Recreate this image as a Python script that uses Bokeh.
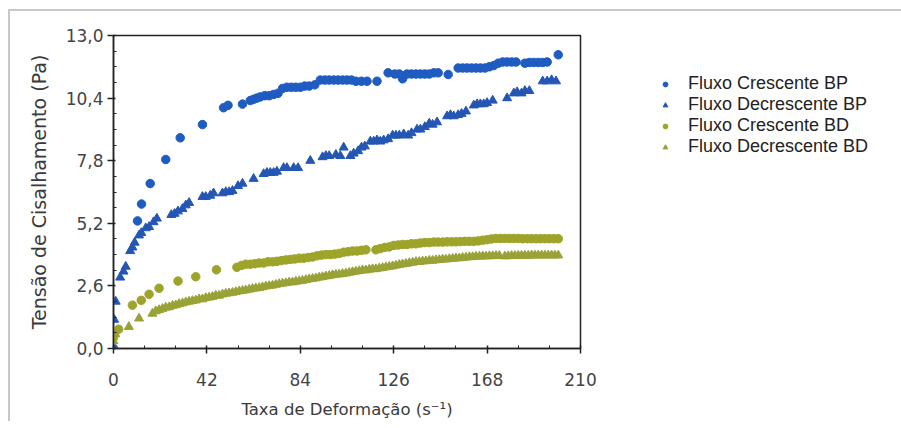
from bokeh.plotting import figure
from bokeh.models import FixedTicker, CustomJSTickFormatter, Legend, LegendItem, Range1d
from bokeh.embed import file_html
from bokeh.resources import INLINE

# ---------------- data ----------------
series_names = ["Fluxo Crescente BP", "Fluxo Decrescente BP",
                "Fluxo Crescente BD", "Fluxo Decrescente BD"]

bp_up_x = [0, 10.8, 12.6, 16.5, 23.5, 30.0, 40.0, 49.5, 51.5, 58.0, 61.5, 63.0, 64.5, 66.0,
           68.0, 70.0, 72.0, 74.0, 76.0, 78.0, 80.0, 82.0, 84.0, 86.0, 88.0, 90.5, 93.0, 95.0,
           97.0, 99.0, 101.0, 103.0, 105.0, 107.0, 109.0, 111.5, 114.0, 118.5, 123.5, 126.5,
           128.5, 130.0, 132.0, 134.0, 136.0, 138.0, 140.0, 142.0, 144.0, 146.0, 150.5, 155.0,
           157.0, 159.0, 161.0, 163.0, 165.0, 167.0, 169.0, 171.0, 173.0, 175.0, 177.0, 179.0,
           181.0, 185.0, 187.0, 189.0, 191.0, 193.0, 195.0, 200.0]
bp_up_y = [0.0, 5.3, 6.0, 6.85, 7.85, 8.75, 9.3, 10.0, 10.1, 10.15, 10.3, 10.35, 10.4, 10.45,
           10.5, 10.5, 10.55, 10.6, 10.8, 10.85, 10.85, 10.85, 10.85, 10.9, 10.9, 10.95, 11.15, 11.15,
           11.15, 11.15, 11.15, 11.15, 11.15, 11.15, 11.1, 11.1, 11.1, 11.1, 11.45, 11.4,
           11.4, 11.2, 11.4, 11.4, 11.4, 11.4, 11.4, 11.4, 11.45, 11.45, 11.38, 11.65,
           11.65, 11.65, 11.65, 11.65, 11.65, 11.65, 11.7, 11.75, 11.85, 11.9, 11.9, 11.9,
           11.9, 11.85, 11.88, 11.88, 11.88, 11.88, 11.9, 12.2]

bp_down_x = [0, 0.3, 1.0, 3.0, 4.5, 5.5, 7.5, 8.5, 9.5, 11.5, 12.5, 14.5, 16.0, 18.0, 19.5,
             26.0, 27.5, 29.0, 31.0, 32.5, 34.0, 40.0, 41.5, 43.5, 45.0, 49.0, 50.5, 52.0, 53.5,
             56.0, 58.0, 63.0, 67.5, 69.0, 70.5, 72.0, 73.5, 76.5, 78.0, 81.0, 83.0, 88.5, 94.0,
             95.5, 97.0, 100.0, 102.0, 103.5, 106.5, 108.0, 110.0, 111.5, 113.0, 115.5, 117.0,
             118.5, 120.0, 121.5, 123.5, 125.5, 127.0, 128.5, 130.5, 132.5, 134.0, 136.5, 138.0,
             140.0, 142.0, 143.5, 145.5, 150.0, 151.5, 153.0, 155.0, 156.5, 158.5, 162.0, 163.5,
             165.0, 166.5, 168.0, 170.5, 177.0, 180.0, 181.5, 183.5, 185.0, 187.0, 193.0, 195.0,
             197.0, 199.0]
bp_down_y = [0.0, 1.2, 1.95, 2.95, 3.2, 3.4, 4.05, 4.2, 4.4, 4.7, 4.8, 5.0, 5.05, 5.25, 5.4,
             5.55, 5.6, 5.7, 5.8, 5.95, 6.05, 6.3, 6.3, 6.35, 6.45, 6.45, 6.5, 6.5, 6.55,
             6.75, 6.85, 7.05, 7.25, 7.3, 7.3, 7.3, 7.35, 7.5, 7.5, 7.5, 7.5, 7.8, 7.95,
             8.0, 8.0, 8.05, 8.0, 8.35, 8.0, 8.1, 8.2, 8.35, 8.4, 8.6, 8.6,
             8.65, 8.6, 8.65, 8.7, 8.85, 8.85, 8.85, 8.9, 8.85, 8.95, 9.1, 9.1,
             9.2, 9.35, 9.3, 9.4, 9.65, 9.7, 9.65, 9.7, 9.75, 9.85, 10.1, 10.15,
             10.15, 10.15, 10.2, 10.3, 10.4, 10.6, 10.65, 10.6, 10.7, 10.7, 11.1, 11.1,
             11.15, 11.1]

bd_up_x = [0, 2.3, 8.5, 12.5, 16.0, 20.5, 29.0, 37.0, 46.3, 55.5, 57.5, 59.5, 61.5, 63.5,
           65.5, 67.5, 69.5, 71.5, 73.5, 75.5, 77.5, 79.5, 81.5, 83.5, 85.5, 87.5, 89.5, 91.5,
           93.5, 95.5, 97.5, 99.5, 101.5, 103.5, 105.5, 107.5, 109.5, 111.5, 113.5, 118.0,
           120.0, 122.0, 124.0, 126.0, 128.0, 130.0, 132.0, 134.0, 136.0, 138.0, 140.0, 142.0,
           144.0, 146.0, 148.0, 150.0, 152.0, 154.0, 156.0, 158.0, 160.0, 162.0, 164.0, 166.0,
           168.0, 170.0, 172.0, 174.0, 176.0, 178.0, 180.0, 182.0, 184.0, 186.0, 188.0, 190.0,
           192.0, 194.0, 196.0, 198.0, 200.0]
bd_up_y = [0.45, 0.8, 1.8, 2.0, 2.25, 2.5, 2.8, 2.98, 3.27, 3.37, 3.45, 3.5, 3.5, 3.52,
           3.55, 3.55, 3.6, 3.6, 3.62, 3.65, 3.68, 3.7, 3.72, 3.75, 3.75, 3.78, 3.8, 3.85,
           3.88, 3.9, 3.9, 3.92, 3.95, 4.0, 4.02, 4.05, 4.05, 4.08, 4.1, 4.1,
           4.15, 4.2, 4.22, 4.28, 4.3, 4.32, 4.32, 4.35, 4.35, 4.38, 4.4, 4.4,
           4.42, 4.42, 4.42, 4.43, 4.43, 4.43, 4.44, 4.45, 4.45, 4.45, 4.47, 4.5,
           4.52, 4.55, 4.57, 4.57, 4.57, 4.57, 4.57, 4.57, 4.56, 4.56, 4.56, 4.56,
           4.56, 4.56, 4.56, 4.56, 4.56]

bd_down_x = [0, 0.8, 6.9, 11.5, 17.5, 19.0, 20.5, 22.0, 23.5, 25.0, 26.5, 28.0, 29.5, 31.0,
             32.5, 34.0, 35.5, 37.0, 38.5, 40.0, 41.5, 43.0, 44.5, 46.0, 47.5, 49.0, 50.5, 52.0,
             53.5, 55.0, 56.5, 58.0, 59.5, 61.0, 62.5, 64.0, 65.5, 67.0, 68.5, 70.0, 71.5, 73.0,
             74.5, 76.0, 77.5, 79.0, 80.5, 82.0, 83.5, 85.0, 86.5, 88.0, 89.5, 91.0, 92.5, 94.0,
             95.5, 97.0, 98.5, 100.0, 101.5, 103.0, 104.5, 106.0, 107.5, 109.0, 110.5, 112.0,
             113.5, 115.0, 116.5, 118.0, 119.5, 121.0, 122.5, 124.0, 125.5, 127.0, 128.5, 130.0,
             131.5, 133.0, 134.5, 136.0, 137.5, 139.0, 140.5, 142.0, 143.5, 145.0, 146.5, 148.0,
             149.5, 151.0, 152.5, 154.0, 155.5, 157.0, 158.5, 160.0, 161.5, 163.0, 164.5, 166.0,
             167.5, 169.0, 170.5, 172.0, 173.5, 176.0, 177.5, 179.0, 180.5, 182.0, 183.5, 185.0,
             186.5, 188.0, 189.5, 191.0, 192.5, 194.0, 195.5, 197.0, 198.5, 200.0]
bd_down_y = [0.3, 0.6, 0.9, 1.25, 1.45, 1.55, 1.6, 1.65, 1.7, 1.72, 1.78, 1.8, 1.85, 1.88,
             1.92, 1.95, 1.98, 2.0, 2.05, 2.05, 2.1, 2.12, 2.15, 2.2, 2.2, 2.25, 2.28, 2.3,
             2.32, 2.35, 2.38, 2.4, 2.42, 2.45, 2.48, 2.5, 2.52, 2.55, 2.58, 2.6, 2.62, 2.65,
             2.68, 2.7, 2.72, 2.75, 2.75, 2.78, 2.8, 2.82, 2.85, 2.88, 2.9, 2.92, 2.95, 2.97,
             3.0, 3.02, 3.05, 3.07, 3.08, 3.1, 3.12, 3.15, 3.18, 3.2, 3.22, 3.25,
             3.25, 3.28, 3.3, 3.3, 3.33, 3.35, 3.38, 3.4, 3.42, 3.45, 3.48, 3.5,
             3.52, 3.55, 3.57, 3.6, 3.6, 3.62, 3.63, 3.65, 3.65, 3.67, 3.68, 3.7,
             3.7, 3.72, 3.73, 3.75, 3.75, 3.77, 3.78, 3.8, 3.8, 3.82, 3.82, 3.83,
             3.83, 3.84, 3.84, 3.85, 3.85, 3.83, 3.84, 3.85, 3.85, 3.86, 3.86, 3.86,
             3.86, 3.87, 3.87, 3.87, 3.87, 3.87, 3.87, 3.87, 3.87, 3.87]

x_ticks = [0, 42, 84, 126, 168, 210]
x_minor = [14, 28, 56, 70, 98, 112, 140, 154, 182, 196]
y_ticks = [0.0, 2.6, 5.2, 7.8, 10.4, 13.0]
y_minor = [0.65, 1.3, 1.95, 3.25, 3.9, 4.55, 5.85, 6.5, 7.15, 8.45, 9.1, 9.75, 11.05, 11.7, 12.35]

x_label = "Taxa de Deformação (s\u207b\u00b9)"
y_label = "Tensão de Cisalhamento (Pa)"

BLUE = "#1f5cc2"
BLUE_T = "#2456b4"
OLIVE = "#9ea42a"
OLIVE_T = "#99a236"

# ---------------- figure ----------------
p = figure(frame_width=467, frame_height=313, output_backend="svg", toolbar_location=None,
           x_range=Range1d(0, 210), y_range=Range1d(0, 13),
           min_border_left=113, min_border_right=313, min_border_top=35, min_border_bottom=66,
           background_fill_color="white", border_fill_color=None)
p.styles = {"background": "linear-gradient(#c8c8c8, #c8c8c8) 9px 9px / 100% 2px no-repeat, "
                          "linear-gradient(#c8c8c8, #c8c8c8) 8px 9px / 2px 100% no-repeat, white"}
p.grid.visible = False
p.outline_line_color = "#222222"
p.outline_line_width = 1.5

r1 = p.scatter(bp_up_x, bp_up_y, marker="circle", size=8.5, fill_color=BLUE, line_color=BLUE)
r2 = p.scatter(bp_down_x, bp_down_y, marker="triangle", size=9, fill_color=BLUE_T, line_color=BLUE_T)
r3 = p.scatter(bd_up_x, bd_up_y, marker="circle", size=8.5, fill_color=OLIVE, line_color=OLIVE)
r4 = p.scatter(bd_down_x, bd_down_y, marker="triangle", size=9, fill_color=OLIVE_T, line_color=OLIVE_T)

xa = p.xaxis[0]
ya = p.yaxis[0]
xa.ticker = FixedTicker(ticks=x_ticks, minor_ticks=x_minor)
ya.ticker = FixedTicker(ticks=y_ticks, minor_ticks=y_minor)
xa.formatter = CustomJSTickFormatter(code="return tick.toFixed(0);")
ya.formatter = CustomJSTickFormatter(code="return tick.toFixed(1).replace('.', ',');")

for ax in (xa, ya):
    ax.axis_line_color = "#222222"
    ax.axis_line_width = 1.5
    ax.major_tick_line_color = "#222222"
    ax.minor_tick_line_color = "#222222"
    ax.major_tick_line_width = 1.5
    ax.major_label_text_font = "DejaVu Sans"
    ax.major_label_text_font_size = "17px"
    ax.major_label_text_color = "#444444"
    ax.axis_label_text_font = "DejaVu Sans"
    ax.axis_label_text_font_style = "normal"
    ax.axis_label_text_color = "#3a3a3a"

xa.axis_label = x_label
xa.axis_label_text_font_size = "16.5px"
xa.major_tick_in = 3
xa.major_tick_out = 5
xa.minor_tick_in = 3
xa.minor_tick_out = 0
xa.major_label_standoff = 19
xa.axis_label_standoff = 11

ya.axis_label = y_label
ya.axis_label_text_font_size = "19px"
ya.major_tick_in = 2
ya.major_tick_out = 6
ya.minor_tick_in = 3
ya.minor_tick_out = 0
ya.major_label_standoff = 4
ya.axis_label_standoff = 13

legend = Legend(items=[LegendItem(label=series_names[0], renderers=[r1]),
                       LegendItem(label=series_names[1], renderers=[r2]),
                       LegendItem(label=series_names[2], renderers=[r3]),
                       LegendItem(label=series_names[3], renderers=[r4])],
                location=(79, 191))
legend.label_text_font = "Liberation Sans"
legend.label_text_font_size = "18px"
legend.label_text_color = "#222222"
legend.label_standoff = 17
legend.glyph_width = 12
legend.glyph_height = 12
legend.label_height = 16
legend.spacing = 0
legend.padding = 0
legend.margin = 0
legend.border_line_color = None
legend.background_fill_alpha = 0
p.add_layout(legend, "right")

open("out.html", "w").write(file_html(p, INLINE))
